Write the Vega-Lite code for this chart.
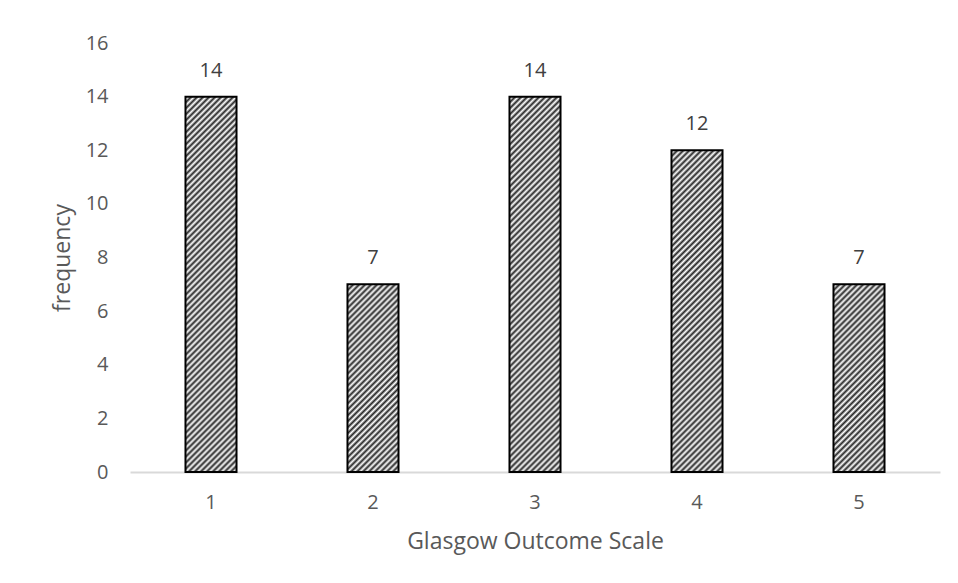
{
  "$schema": "https://vega.github.io/schema/vega-lite/v6.json",
  "autosize": "none",
  "width": 810,
  "height": 429,
  "padding": {"left": 130, "top": 43, "right": 18, "bottom": 111},
  "background": "white",
  "config": {
    "view": {"stroke": null},
    "font": "Open Sans",
    "axis": {"labelFont": "Open Sans", "titleFont": "Open Sans", "labelColor": "#595959", "titleColor": "#595959", "titleFontWeight": "normal", "labelFontSize": 20, "titleFontSize": 23, "grid": false, "ticks": false, "domain": false}
  },
  "data": {"values": [
    {"gos": "1", "frequency": 14},
    {"gos": "2", "frequency": 7},
    {"gos": "3", "frequency": 14},
    {"gos": "4", "frequency": 12},
    {"gos": "5", "frequency": 7}
  ]},
  "layer": [
    {
      "mark": {"type": "bar", "stroke": "#000000", "strokeWidth": 2},
      "encoding": {
        "x": {"field": "gos", "type": "ordinal", "title": "Glasgow Outcome Scale",
              "scale": {"paddingInner": 0.685, "paddingOuter": 0.3425},
              "axis": {"labelAngle": 0, "labelPadding": 20, "titlePadding": 18, "domain": true, "domainColor": "#d9d9d9", "domainWidth": 2}},
        "y": {"field": "frequency", "type": "quantitative", "title": "frequency",
              "scale": {"domain": [0, 16]},
              "axis": {"values": [0, 2, 4, 6, 8, 10, 12, 14, 16], "labelPadding": 22, "titlePadding": 11}},
        "fill": {
          "condition": [
            {"test": "datum.frequency == 14", "value": {"gradient": "linear", "x1": 0, "y1": 0, "x2": 0.15162, "y2": 1.11532, "stops": [
              {"offset":0,"color":"#262626"},{"offset":0.0070,"color":"#fff"},{"offset":0.0141,"color":"#262626"},{"offset":0.0211,"color":"#fff"},{"offset":0.0282,"color":"#262626"},{"offset":0.0352,"color":"#fff"},{"offset":0.0423,"color":"#262626"},{"offset":0.0493,"color":"#fff"},{"offset":0.0563,"color":"#262626"},{"offset":0.0634,"color":"#fff"},
              {"offset":0.0704,"color":"#262626"},{"offset":0.0775,"color":"#fff"},{"offset":0.0845,"color":"#262626"},{"offset":0.0915,"color":"#fff"},{"offset":0.0986,"color":"#262626"},{"offset":0.1056,"color":"#fff"},{"offset":0.1127,"color":"#262626"},{"offset":0.1197,"color":"#fff"},{"offset":0.1268,"color":"#262626"},{"offset":0.1338,"color":"#fff"},
              {"offset":0.1408,"color":"#262626"},{"offset":0.1479,"color":"#fff"},{"offset":0.1549,"color":"#262626"},{"offset":0.1620,"color":"#fff"},{"offset":0.1690,"color":"#262626"},{"offset":0.1761,"color":"#fff"},{"offset":0.1831,"color":"#262626"},{"offset":0.1901,"color":"#fff"},{"offset":0.1972,"color":"#262626"},{"offset":0.2042,"color":"#fff"},
              {"offset":0.2113,"color":"#262626"},{"offset":0.2183,"color":"#fff"},{"offset":0.2254,"color":"#262626"},{"offset":0.2324,"color":"#fff"},{"offset":0.2394,"color":"#262626"},{"offset":0.2465,"color":"#fff"},{"offset":0.2535,"color":"#262626"},{"offset":0.2606,"color":"#fff"},{"offset":0.2676,"color":"#262626"},{"offset":0.2746,"color":"#fff"},
              {"offset":0.2817,"color":"#262626"},{"offset":0.2887,"color":"#fff"},{"offset":0.2958,"color":"#262626"},{"offset":0.3028,"color":"#fff"},{"offset":0.3099,"color":"#262626"},{"offset":0.3169,"color":"#fff"},{"offset":0.3239,"color":"#262626"},{"offset":0.3310,"color":"#fff"},{"offset":0.3380,"color":"#262626"},{"offset":0.3451,"color":"#fff"},
              {"offset":0.3521,"color":"#262626"},{"offset":0.3592,"color":"#fff"},{"offset":0.3662,"color":"#262626"},{"offset":0.3732,"color":"#fff"},{"offset":0.3803,"color":"#262626"},{"offset":0.3873,"color":"#fff"},{"offset":0.3944,"color":"#262626"},{"offset":0.4014,"color":"#fff"},{"offset":0.4085,"color":"#262626"},{"offset":0.4155,"color":"#fff"},
              {"offset":0.4225,"color":"#262626"},{"offset":0.4296,"color":"#fff"},{"offset":0.4366,"color":"#262626"},{"offset":0.4437,"color":"#fff"},{"offset":0.4507,"color":"#262626"},{"offset":0.4577,"color":"#fff"},{"offset":0.4648,"color":"#262626"},{"offset":0.4718,"color":"#fff"},{"offset":0.4789,"color":"#262626"},{"offset":0.4859,"color":"#fff"},
              {"offset":0.4930,"color":"#262626"},{"offset":0.5000,"color":"#fff"},{"offset":0.5070,"color":"#262626"},{"offset":0.5141,"color":"#fff"},{"offset":0.5211,"color":"#262626"},{"offset":0.5282,"color":"#fff"},{"offset":0.5352,"color":"#262626"},{"offset":0.5423,"color":"#fff"},{"offset":0.5493,"color":"#262626"},{"offset":0.5563,"color":"#fff"},
              {"offset":0.5634,"color":"#262626"},{"offset":0.5704,"color":"#fff"},{"offset":0.5775,"color":"#262626"},{"offset":0.5845,"color":"#fff"},{"offset":0.5915,"color":"#262626"},{"offset":0.5986,"color":"#fff"},{"offset":0.6056,"color":"#262626"},{"offset":0.6127,"color":"#fff"},{"offset":0.6197,"color":"#262626"},{"offset":0.6268,"color":"#fff"},
              {"offset":0.6338,"color":"#262626"},{"offset":0.6408,"color":"#fff"},{"offset":0.6479,"color":"#262626"},{"offset":0.6549,"color":"#fff"},{"offset":0.6620,"color":"#262626"},{"offset":0.6690,"color":"#fff"},{"offset":0.6761,"color":"#262626"},{"offset":0.6831,"color":"#fff"},{"offset":0.6901,"color":"#262626"},{"offset":0.6972,"color":"#fff"},
              {"offset":0.7042,"color":"#262626"},{"offset":0.7113,"color":"#fff"},{"offset":0.7183,"color":"#262626"},{"offset":0.7254,"color":"#fff"},{"offset":0.7324,"color":"#262626"},{"offset":0.7394,"color":"#fff"},{"offset":0.7465,"color":"#262626"},{"offset":0.7535,"color":"#fff"},{"offset":0.7606,"color":"#262626"},{"offset":0.7676,"color":"#fff"},
              {"offset":0.7746,"color":"#262626"},{"offset":0.7817,"color":"#fff"},{"offset":0.7887,"color":"#262626"},{"offset":0.7958,"color":"#fff"},{"offset":0.8028,"color":"#262626"},{"offset":0.8099,"color":"#fff"},{"offset":0.8169,"color":"#262626"},{"offset":0.8239,"color":"#fff"},{"offset":0.8310,"color":"#262626"},{"offset":0.8380,"color":"#fff"},
              {"offset":0.8451,"color":"#262626"},{"offset":0.8521,"color":"#fff"},{"offset":0.8592,"color":"#262626"},{"offset":0.8662,"color":"#fff"},{"offset":0.8732,"color":"#262626"},{"offset":0.8803,"color":"#fff"},{"offset":0.8873,"color":"#262626"},{"offset":0.8944,"color":"#fff"},{"offset":0.9014,"color":"#262626"},{"offset":0.9085,"color":"#fff"},
              {"offset":0.9155,"color":"#262626"},{"offset":0.9225,"color":"#fff"},{"offset":0.9296,"color":"#262626"},{"offset":0.9366,"color":"#fff"},{"offset":0.9437,"color":"#262626"},{"offset":0.9507,"color":"#fff"},{"offset":0.9577,"color":"#262626"},{"offset":0.9648,"color":"#fff"},{"offset":0.9718,"color":"#262626"},{"offset":0.9789,"color":"#fff"},
              {"offset":0.9859,"color":"#262626"},{"offset":0.9930,"color":"#fff"},{"offset":1,"color":"#262626"}
            ]}},
            {"test": "datum.frequency == 12", "value": {"gradient": "linear", "x1": 0, "y1": 0, "x2": 0.17925, "y2": 1.13018, "stops": [
              {"offset":0,"color":"#262626"},{"offset":0.0081,"color":"#fff"},{"offset":0.0161,"color":"#262626"},{"offset":0.0242,"color":"#fff"},{"offset":0.0323,"color":"#262626"},{"offset":0.0403,"color":"#fff"},{"offset":0.0484,"color":"#262626"},{"offset":0.0565,"color":"#fff"},{"offset":0.0645,"color":"#262626"},{"offset":0.0726,"color":"#fff"},
              {"offset":0.0806,"color":"#262626"},{"offset":0.0887,"color":"#fff"},{"offset":0.0968,"color":"#262626"},{"offset":0.1048,"color":"#fff"},{"offset":0.1129,"color":"#262626"},{"offset":0.1210,"color":"#fff"},{"offset":0.1290,"color":"#262626"},{"offset":0.1371,"color":"#fff"},{"offset":0.1452,"color":"#262626"},{"offset":0.1532,"color":"#fff"},
              {"offset":0.1613,"color":"#262626"},{"offset":0.1694,"color":"#fff"},{"offset":0.1774,"color":"#262626"},{"offset":0.1855,"color":"#fff"},{"offset":0.1935,"color":"#262626"},{"offset":0.2016,"color":"#fff"},{"offset":0.2097,"color":"#262626"},{"offset":0.2177,"color":"#fff"},{"offset":0.2258,"color":"#262626"},{"offset":0.2339,"color":"#fff"},
              {"offset":0.2419,"color":"#262626"},{"offset":0.2500,"color":"#fff"},{"offset":0.2581,"color":"#262626"},{"offset":0.2661,"color":"#fff"},{"offset":0.2742,"color":"#262626"},{"offset":0.2823,"color":"#fff"},{"offset":0.2903,"color":"#262626"},{"offset":0.2984,"color":"#fff"},{"offset":0.3065,"color":"#262626"},{"offset":0.3145,"color":"#fff"},
              {"offset":0.3226,"color":"#262626"},{"offset":0.3306,"color":"#fff"},{"offset":0.3387,"color":"#262626"},{"offset":0.3468,"color":"#fff"},{"offset":0.3548,"color":"#262626"},{"offset":0.3629,"color":"#fff"},{"offset":0.3710,"color":"#262626"},{"offset":0.3790,"color":"#fff"},{"offset":0.3871,"color":"#262626"},{"offset":0.3952,"color":"#fff"},
              {"offset":0.4032,"color":"#262626"},{"offset":0.4113,"color":"#fff"},{"offset":0.4194,"color":"#262626"},{"offset":0.4274,"color":"#fff"},{"offset":0.4355,"color":"#262626"},{"offset":0.4435,"color":"#fff"},{"offset":0.4516,"color":"#262626"},{"offset":0.4597,"color":"#fff"},{"offset":0.4677,"color":"#262626"},{"offset":0.4758,"color":"#fff"},
              {"offset":0.4839,"color":"#262626"},{"offset":0.4919,"color":"#fff"},{"offset":0.5000,"color":"#262626"},{"offset":0.5081,"color":"#fff"},{"offset":0.5161,"color":"#262626"},{"offset":0.5242,"color":"#fff"},{"offset":0.5323,"color":"#262626"},{"offset":0.5403,"color":"#fff"},{"offset":0.5484,"color":"#262626"},{"offset":0.5565,"color":"#fff"},
              {"offset":0.5645,"color":"#262626"},{"offset":0.5726,"color":"#fff"},{"offset":0.5806,"color":"#262626"},{"offset":0.5887,"color":"#fff"},{"offset":0.5968,"color":"#262626"},{"offset":0.6048,"color":"#fff"},{"offset":0.6129,"color":"#262626"},{"offset":0.6210,"color":"#fff"},{"offset":0.6290,"color":"#262626"},{"offset":0.6371,"color":"#fff"},
              {"offset":0.6452,"color":"#262626"},{"offset":0.6532,"color":"#fff"},{"offset":0.6613,"color":"#262626"},{"offset":0.6694,"color":"#fff"},{"offset":0.6774,"color":"#262626"},{"offset":0.6855,"color":"#fff"},{"offset":0.6935,"color":"#262626"},{"offset":0.7016,"color":"#fff"},{"offset":0.7097,"color":"#262626"},{"offset":0.7177,"color":"#fff"},
              {"offset":0.7258,"color":"#262626"},{"offset":0.7339,"color":"#fff"},{"offset":0.7419,"color":"#262626"},{"offset":0.7500,"color":"#fff"},{"offset":0.7581,"color":"#262626"},{"offset":0.7661,"color":"#fff"},{"offset":0.7742,"color":"#262626"},{"offset":0.7823,"color":"#fff"},{"offset":0.7903,"color":"#262626"},{"offset":0.7984,"color":"#fff"},
              {"offset":0.8065,"color":"#262626"},{"offset":0.8145,"color":"#fff"},{"offset":0.8226,"color":"#262626"},{"offset":0.8306,"color":"#fff"},{"offset":0.8387,"color":"#262626"},{"offset":0.8468,"color":"#fff"},{"offset":0.8548,"color":"#262626"},{"offset":0.8629,"color":"#fff"},{"offset":0.8710,"color":"#262626"},{"offset":0.8790,"color":"#fff"},
              {"offset":0.8871,"color":"#262626"},{"offset":0.8952,"color":"#fff"},{"offset":0.9032,"color":"#262626"},{"offset":0.9113,"color":"#fff"},{"offset":0.9194,"color":"#262626"},{"offset":0.9274,"color":"#fff"},{"offset":0.9355,"color":"#262626"},{"offset":0.9435,"color":"#fff"},{"offset":0.9516,"color":"#262626"},{"offset":0.9597,"color":"#fff"},
              {"offset":0.9677,"color":"#262626"},{"offset":0.9758,"color":"#fff"},{"offset":0.9839,"color":"#262626"},{"offset":0.9919,"color":"#fff"},{"offset":1,"color":"#262626"}
            ]}}
          ],
          "value": {"gradient": "linear", "x1": 0, "y1": 0, "x2": 0.32201, "y2": 1.18434, "stops": [
            {"offset":0,"color":"#262626"},{"offset":0.0125,"color":"#fff"},{"offset":0.025,"color":"#262626"},{"offset":0.0375,"color":"#fff"},{"offset":0.05,"color":"#262626"},{"offset":0.0625,"color":"#fff"},{"offset":0.075,"color":"#262626"},{"offset":0.0875,"color":"#fff"},{"offset":0.1,"color":"#262626"},{"offset":0.1125,"color":"#fff"},
            {"offset":0.125,"color":"#262626"},{"offset":0.1375,"color":"#fff"},{"offset":0.15,"color":"#262626"},{"offset":0.1625,"color":"#fff"},{"offset":0.175,"color":"#262626"},{"offset":0.1875,"color":"#fff"},{"offset":0.2,"color":"#262626"},{"offset":0.2125,"color":"#fff"},{"offset":0.225,"color":"#262626"},{"offset":0.2375,"color":"#fff"},
            {"offset":0.25,"color":"#262626"},{"offset":0.2625,"color":"#fff"},{"offset":0.275,"color":"#262626"},{"offset":0.2875,"color":"#fff"},{"offset":0.3,"color":"#262626"},{"offset":0.3125,"color":"#fff"},{"offset":0.325,"color":"#262626"},{"offset":0.3375,"color":"#fff"},{"offset":0.35,"color":"#262626"},{"offset":0.3625,"color":"#fff"},
            {"offset":0.375,"color":"#262626"},{"offset":0.3875,"color":"#fff"},{"offset":0.4,"color":"#262626"},{"offset":0.4125,"color":"#fff"},{"offset":0.425,"color":"#262626"},{"offset":0.4375,"color":"#fff"},{"offset":0.45,"color":"#262626"},{"offset":0.4625,"color":"#fff"},{"offset":0.475,"color":"#262626"},{"offset":0.4875,"color":"#fff"},
            {"offset":0.5,"color":"#262626"},{"offset":0.5125,"color":"#fff"},{"offset":0.525,"color":"#262626"},{"offset":0.5375,"color":"#fff"},{"offset":0.55,"color":"#262626"},{"offset":0.5625,"color":"#fff"},{"offset":0.575,"color":"#262626"},{"offset":0.5875,"color":"#fff"},{"offset":0.6,"color":"#262626"},{"offset":0.6125,"color":"#fff"},
            {"offset":0.625,"color":"#262626"},{"offset":0.6375,"color":"#fff"},{"offset":0.65,"color":"#262626"},{"offset":0.6625,"color":"#fff"},{"offset":0.675,"color":"#262626"},{"offset":0.6875,"color":"#fff"},{"offset":0.7,"color":"#262626"},{"offset":0.7125,"color":"#fff"},{"offset":0.725,"color":"#262626"},{"offset":0.7375,"color":"#fff"},
            {"offset":0.75,"color":"#262626"},{"offset":0.7625,"color":"#fff"},{"offset":0.775,"color":"#262626"},{"offset":0.7875,"color":"#fff"},{"offset":0.8,"color":"#262626"},{"offset":0.8125,"color":"#fff"},{"offset":0.825,"color":"#262626"},{"offset":0.8375,"color":"#fff"},{"offset":0.85,"color":"#262626"},{"offset":0.8625,"color":"#fff"},
            {"offset":0.875,"color":"#262626"},{"offset":0.8875,"color":"#fff"},{"offset":0.9,"color":"#262626"},{"offset":0.9125,"color":"#fff"},{"offset":0.925,"color":"#262626"},{"offset":0.9375,"color":"#fff"},{"offset":0.95,"color":"#262626"},{"offset":0.9625,"color":"#fff"},{"offset":0.975,"color":"#262626"},{"offset":0.9875,"color":"#fff"},
            {"offset":1,"color":"#262626"}
          ]}
        }
      }
    },
    {
      "mark": {"type": "text", "baseline": "middle", "dy": -26, "fontSize": 20, "color": "#404040", "font": "Open Sans"},
      "encoding": {
        "x": {"field": "gos", "type": "ordinal"},
        "y": {"field": "frequency", "type": "quantitative"},
        "text": {"field": "frequency", "type": "quantitative"}
      }
    }
  ]
}
